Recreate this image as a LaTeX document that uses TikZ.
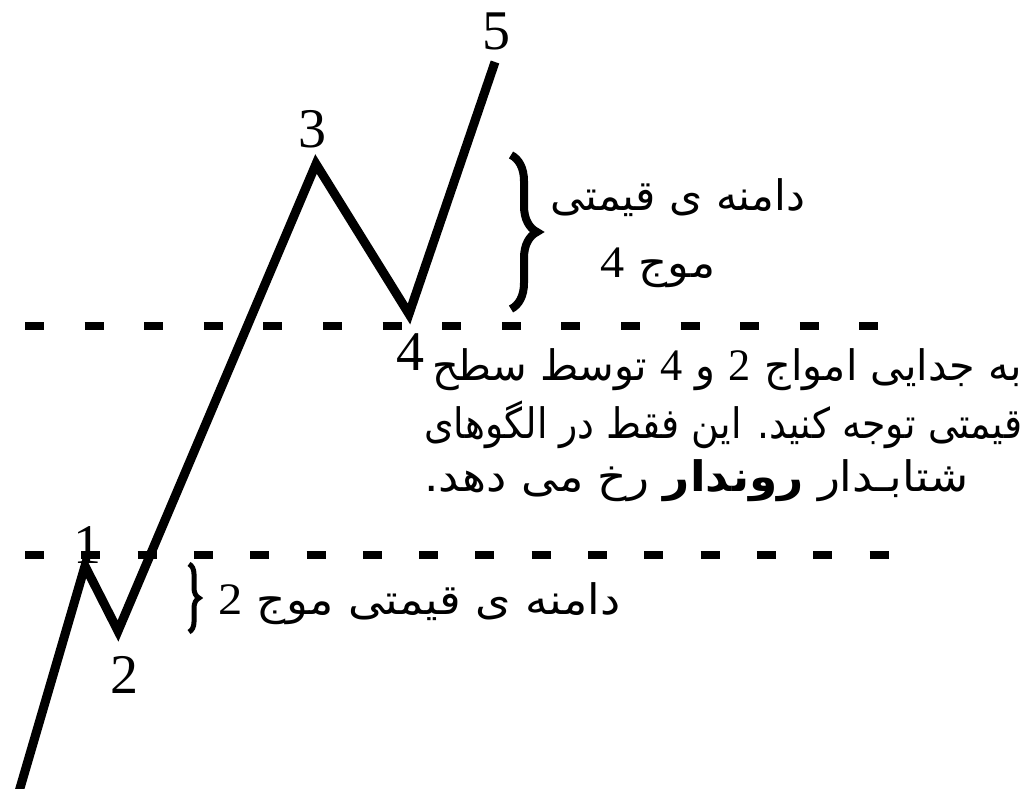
\documentclass[tikz,border=0pt]{standalone}
\usepackage{fontspec}
\usepackage{graphicx}
\setmainfont{Liberation Serif}
\newfontfamily\arabicfont[Script=Arabic]{DejaVu Sans}
\TeXXeTstate=1
\usetikzlibrary{decorations.pathreplacing}
\newcommand{\latnum}[1]{{\rmfamily\fontsize{45}{48}\selectfont #1}}
\newcommand{\fitw}[2]{\resizebox{#1}{\height}{#2}}
\begin{document}
\begin{tikzpicture}[x=1pt,y=-1pt,
  wave/.style={line width=9pt, line join=miter},
  dashupper/.style={line width=8pt, dash pattern=on 19pt off 40.6pt},
  dashlower/.style={line width=8pt, dash pattern=on 19pt off 37.3pt},
  ptlabel/.style={font=\fontsize{56}{60}\selectfont, inner sep=0pt},
  fa/.style={font=\arabicfont\fontsize{42}{48}\selectfont, inner sep=0pt},
  bigbrace/.style={decorate, decoration={brace, amplitude=26pt}, line width=8pt},
  smallbrace/.style={decorate, decoration={brace, amplitude=10pt}, line width=5pt}]
\useasboundingbox[fill=white] (0,0) rectangle (1029,789);
% dashed levels
\coordinate (u1) at (25,326);
\coordinate (u2) at (879,326);
\coordinate (w1) at (25,555);
\coordinate (w2) at (889,555);
\draw[dashupper] (u1) -- (u2);
\draw[dashlower] (w1) -- (w2);
% wave
\coordinate (s) at (18,795);
\coordinate (p1) at (85,566);
\coordinate (p2) at (118,631);
\coordinate (p3) at (316,164);
\coordinate (p4) at (409,314);
\coordinate (p5) at (495,62);
\draw[wave] (s) -- (p1) -- (p2) -- (p3) -- (p4) -- (p5);
% point labels
\node[ptlabel] (n1) at (87,545) {1};
\node[ptlabel] (n2) at (124,675) {2};
\node[ptlabel] (n3) at (312,129) {3};
\node[ptlabel] (n4) at (410,352) {4};
\node[ptlabel] (n5) at (496,31) {5};
% braces
\coordinate (ba) at (511,155);
\coordinate (bb) at (511,309);
\draw[bigbrace] (ba) -- (bb);
\coordinate (ca) at (189,564);
\coordinate (cb) at (189,632);
\draw[smallbrace] (ca) -- (cb);
% texts
\node[fa, anchor=west] (t1) at (550,198) {\fitw{255pt}{\beginR دامنه ی قیمتی\endR}};
\node[fa, anchor=west] (t2) at (600,268) {\fitw{115pt}{\beginR موج \latnum{4}\endR}};
\node[fa, anchor=west] (l1) at (432,370) {\fitw{590pt}{\beginR به جدایی امواج \latnum{2} و \latnum{4} توسط سطح\endR}};
\node[fa, anchor=west] (l2) at (424,425) {\fitw{598pt}{\beginR قیمتی توجه کنید. این فقط در الگوهای\endR}};
\node[fa, anchor=west] (l3) at (424,481) {\fitw{544pt}{\beginR شتابـدار {\bfseries روندار} رخ می دهد.\endR}};
\node[fa, anchor=west] (b) at (218,604) {\fitw{402pt}{\beginR دامنه ی قیمتی موج \latnum{2}\endR}};
\end{tikzpicture}
\end{document}
